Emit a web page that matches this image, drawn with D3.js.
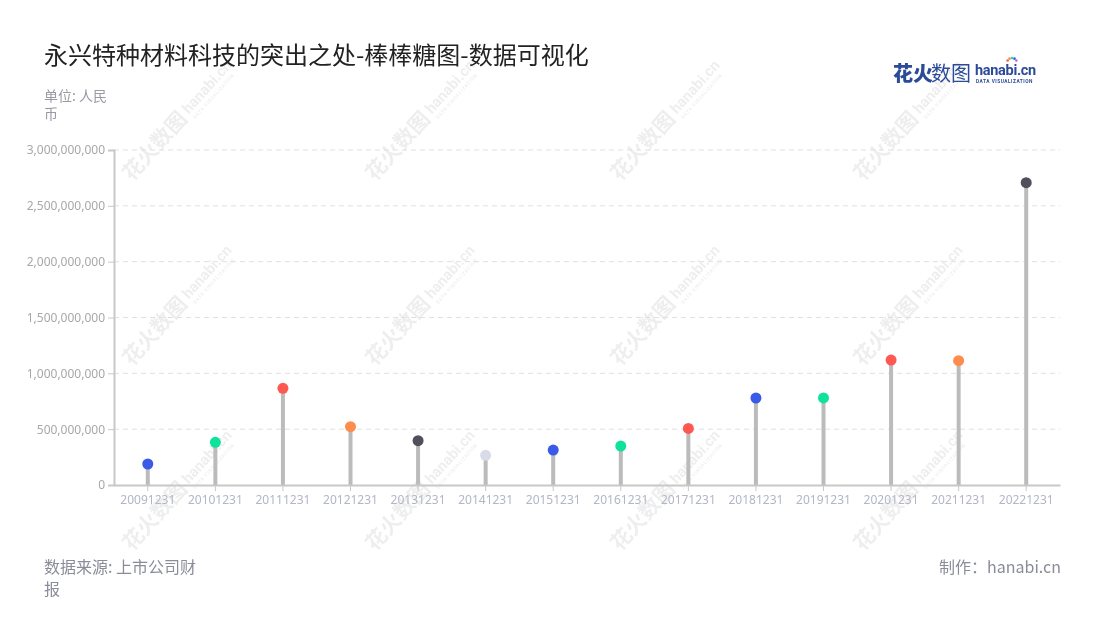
<!DOCTYPE html>
<html>
<head>
<meta charset="utf-8">
<script src="https://cdn.jsdelivr.net/npm/d3@7"></script>
<style>
  html, body { margin: 0; padding: 0; background: #fff; }
  svg { display: block; font-family: "Noto Sans CJK SC", "Noto Sans", sans-serif; }
</style>
</head>
<body>
<svg id="chart" width="1100" height="620"></svg>
<script>
// ---- data ----
const categories = ["20091231","20101231","20111231","20121231","20131231","20141231","20151231",
                    "20161231","20171231","20181231","20191231","20201231","20211231","20221231"];
const values = [188e6, 382e6, 866e6, 522e6, 397e6, 266e6, 313e6,
                349e6, 507e6, 779e6, 780e6, 1119e6, 1113e6, 2707e6];
const pointColors = ["#3a5ae8","#0ee29b","#ff5850","#ff8c4c","#50505c","#d9dce8","#3a5ae8",
                     "#0ee29b","#ff5850","#3a5ae8","#0ee29b","#ff5850","#ff8c4c","#50505c"];
const yTicks = [0, 500e6, 1000e6, 1500e6, 2000e6, 2500e6, 3000e6];
const title = "永兴特种材料科技的突出之处-棒棒糖图-数据可视化";
const unitLines = ["单位: 人民", "币"];
const sourceLines = ["数据来源: 上市公司财", "报"];
const credit = "制作：hanabi.cn";

// ---- layout ----
const svg = d3.select("#chart");
const plotL = 114, plotR = 1060, plotT = 150, plotB = 485;

const x = d3.scaleBand().domain(categories).range([plotL, plotR]);
const y = d3.scaleLinear().domain([0, 3e9]).range([plotB, plotT]);

// watermarks
const wmRows = [182, 367, 552], wmCols = [132, 375, 620, 863];
const wm = svg.append("g").attr("opacity", 0.07);
wmRows.forEach(ry => wmCols.forEach(cx => {
  const g = wm.append("g").attr("transform", `translate(${cx},${ry}) rotate(-48)`);
  g.append("text").attr("x", 0).attr("y", 0).attr("font-size", 21).attr("font-weight", 700)
    .attr("fill", "#000").text("花火数图");
  g.append("text").attr("x", 88).attr("y", -3).attr("font-size", 15).attr("font-weight", 700)
    .attr("fill", "#000").attr("font-family", "Roboto, sans-serif").text("hanabi.cn");
  g.append("text").attr("x", 89).attr("y", 5).attr("font-size", 5).attr("font-weight", 700)
    .attr("fill", "#000").attr("font-family", "Roboto, sans-serif").attr("letter-spacing", 0.5)
    .text("DATA VISUALIZATION");
}));

// title
svg.append("text").attr("x", 44).attr("y", 64).attr("font-size", 24).attr("fill", "#222")
  .text(title);

// unit
unitLines.forEach((t, i) => svg.append("text").attr("x", 44).attr("y", 101 + i * 18)
  .attr("font-size", 14).attr("fill", "#9a9aa4").text(t));

// logo
const logo = svg.append("g");
logo.append("text").attr("x", 893).attr("y", 81).attr("font-size", 20).attr("fill", "#2b4a98")
  .attr("font-weight", 900).text("花火");
logo.append("text").attr("x", 931).attr("y", 81).attr("font-size", 20).attr("fill", "#2b4a98")
  .attr("font-weight", 400).text("数图");
logo.append("text").attr("x", 975).attr("y", 75).attr("font-size", 14.5).attr("fill", "#2b4a98")
  .attr("font-weight", 700).attr("font-family", "Roboto, sans-serif").attr("letter-spacing", -0.3).text("hanabi.cn");
logo.append("text").attr("x", 976).attr("y", 83).attr("font-size", 4.8).attr("fill", "#2b4a98")
  .attr("font-weight", 700).attr("font-family", "Roboto, sans-serif").attr("letter-spacing", 0.5).text("DATA VISUALIZATION");
const sparkColors = ["#ff5850","#ff8c4c","#0ee29b","#3a5ae8","#c45ce8"];
sparkColors.forEach((c, i) => {
  const a = (-150 + i * 30) * Math.PI / 180;
  logo.append("circle").attr("cx", 1012 + Math.cos(a) * 5).attr("cy", 63 + Math.sin(a) * 5)
    .attr("r", 1.3).attr("fill", c);
});

// grid
svg.append("g").selectAll("line").data(yTicks.filter(d => d > 0)).join("line")
  .attr("x1", plotL).attr("x2", plotR).attr("y1", d => y(d)).attr("y2", d => y(d))
  .attr("stroke", "#e0e0e0").attr("stroke-width", 1).attr("stroke-dasharray", "5,4");

// y axis
const yAxis = svg.append("g").attr("transform", `translate(${plotL},0)`)
  .call(d3.axisLeft(y).tickValues(yTicks).tickSize(6).tickPadding(3).tickFormat(d3.format(",")));
yAxis.select(".domain").attr("stroke", "#c8c8c8").attr("stroke-width", 2);
yAxis.selectAll(".tick line").attr("stroke", "#c8c8c8");
yAxis.selectAll(".tick text").attr("fill", "#a8a8a8").attr("font-size", 12)
  .attr("font-family", "'Noto Sans', sans-serif");

// stems
svg.append("g").selectAll("line").data(categories).join("line")
  .attr("x1", d => x(d) + x.bandwidth() / 2).attr("x2", d => x(d) + x.bandwidth() / 2)
  .attr("y1", y(0)).attr("y2", (d, i) => y(values[i]))
  .attr("stroke", "#bbbbbb").attr("stroke-width", 4);

// x axis
const xAxis = svg.append("g").attr("transform", `translate(0,${plotB})`)
  .call(d3.axisBottom(x).tickSize(6).tickPadding(4).tickSizeOuter(0));
xAxis.select(".domain").attr("stroke", "#c8c8c8").attr("stroke-width", 2);
xAxis.selectAll(".tick line").attr("stroke", "#c8c8c8");
xAxis.selectAll(".tick text").attr("fill", "#b2b6c6").attr("font-size", 12)
  .attr("font-family", "'Noto Sans', sans-serif");

// heads
svg.append("g").selectAll("circle").data(categories).join("circle")
  .attr("cx", d => x(d) + x.bandwidth() / 2).attr("cy", (d, i) => y(values[i]))
  .attr("r", 5.5).attr("fill", (d, i) => pointColors[i]);

// footer
sourceLines.forEach((t, i) => svg.append("text").attr("x", 44).attr("y", 573 + i * 22)
  .attr("font-size", 16).attr("fill", "#8a8c99").text(t));
svg.append("text").attr("x", 1061).attr("y", 573).attr("text-anchor", "end")
  .attr("font-size", 16).attr("fill", "#8a8c99").text(credit);
</script>
</body>
</html>
